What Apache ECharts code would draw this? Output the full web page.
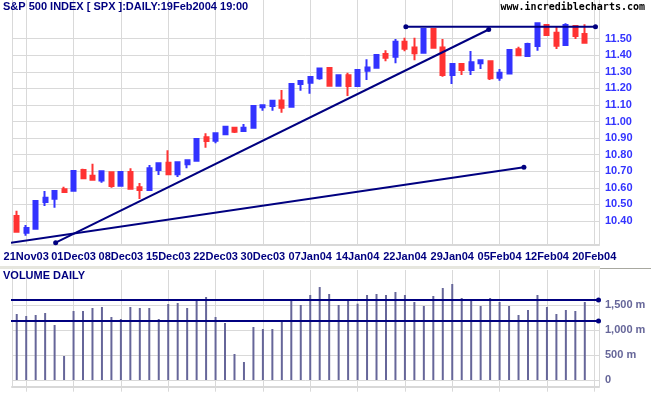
<!DOCTYPE html>
<html><head><meta charset="utf-8">
<script src="https://cdn.jsdelivr.net/npm/echarts@6/dist/echarts.min.js"></script>
<style>html,body{margin:0;padding:0;background:#fff}#c{width:651px;height:395px}</style>
</head><body><div id="c"></div>
<script>
// ---- data ----
const categories = ['20Nov03','21Nov03','24Nov03','25Nov03','26Nov03','28Nov03',
 '01Dec03','02Dec03','03Dec03','04Dec03','05Dec03','08Dec03','09Dec03','10Dec03','11Dec03','12Dec03',
 '15Dec03','16Dec03','17Dec03','18Dec03','19Dec03','22Dec03','23Dec03','24Dec03','26Dec03','29Dec03','30Dec03','31Dec03',
 '02Jan04','05Jan04','06Jan04','07Jan04','08Jan04','09Jan04','12Jan04','13Jan04','14Jan04','15Jan04','16Jan04',
 '20Jan04','21Jan04','22Jan04','23Jan04','26Jan04','27Jan04','28Jan04','29Jan04','30Jan04',
 '02Feb04','03Feb04','04Feb04','05Feb04','06Feb04','09Feb04','10Feb04','11Feb04','12Feb04','13Feb04',
 '17Feb04','18Feb04','19Feb04','20Feb04'];
const opens  = [10.430,10.329,10.353,10.514,10.534,10.591,10.583,10.708,10.673,10.645,10.694,10.613,10.696,10.603,10.587,10.708,
 10.752,10.682,10.742,10.764,10.905,10.884,10.923,10.963,10.943,10.963,11.086,11.094,11.128,11.090,11.227,11.234,11.261,11.323,
 11.216,11.279,11.215,11.307,11.325,11.408,11.391,11.482,11.448,11.416,11.559,11.448,11.281,11.347,11.311,11.352,11.365,11.265,
 11.291,11.436,11.396,11.456,11.583,11.536,11.462,11.577,11.528];
const closes = [10.335,10.358,10.520,10.540,10.581,10.575,10.702,10.658,10.649,10.700,10.611,10.696,10.595,10.587,10.718,10.748,
 10.682,10.754,10.766,10.895,10.883,10.929,10.969,10.939,10.963,11.094,11.098,11.126,11.084,11.227,11.245,11.269,11.321,11.216,
 11.279,11.215,11.311,11.327,11.402,11.385,11.482,11.440,11.412,11.559,11.446,11.281,11.347,11.311,11.358,11.371,11.261,11.295,
 11.432,11.400,11.468,11.593,11.522,11.458,11.583,11.516,11.476];
const lows   = [10.335,10.311,10.353,10.490,10.480,10.573,10.583,10.653,10.649,10.631,10.601,10.613,10.595,10.533,10.587,10.677,
 10.682,10.665,10.718,10.764,10.842,10.869,10.919,10.931,10.943,10.963,11.066,11.066,11.053,11.090,11.186,11.168,11.253,11.216,
 11.216,11.154,11.215,11.251,11.325,11.364,11.352,11.425,11.371,11.416,11.446,11.271,11.227,11.281,11.281,11.317,11.251,11.247,
 11.291,11.400,11.396,11.428,11.518,11.438,11.462,11.498,11.476];
const highs  = [10.462,10.376,10.520,10.581,10.581,10.607,10.702,10.715,10.746,10.700,10.694,10.696,10.718,10.629,10.738,10.748,
 10.827,10.756,10.766,10.895,10.929,10.929,10.975,10.966,10.985,11.094,11.098,11.130,11.190,11.227,11.245,11.269,11.321,11.327,
 11.279,11.295,11.311,11.377,11.402,11.430,11.498,11.506,11.506,11.559,11.559,11.498,11.347,11.347,11.426,11.377,11.365,11.317,
 11.432,11.452,11.476,11.593,11.586,11.572,11.593,11.577,11.587];
const volumes = [1325,1285,1305,1345,1104,482,1386,1386,1446,1466,1265,1225,1466,1446,1446,1225,
 1526,1546,1446,1593,1667,1265,1145,522,361,1064,1024,1024,1171,1593,1506,1707,1867,1727,
 1506,1606,1533,1707,1727,1707,1767,1707,1566,1486,1687,1847,1928,1647,1606,1486,1647,1566,
 1486,1305,1406,1707,1466,1325,1406,1386,1566];
// trend lines: [category position, value]
const resistanceLine = [[41.1, 11.572], [61.13, 11.572]];
const supportLine    = [[4.11, 10.269], [49.85, 11.556]];
const longTrendLine  = [[-1.78, 10.259], [53.57, 10.724]];
const volumeUpper    = [[-1.78, 1606], [61.45, 1606]];
const volumeLower    = [[-1.78, 1185], [61.45, 1185]];
const priceTicks  = {min: 10.4, max: 11.5, step: 0.1};
const volumeTicks = {min: 0, max: 1500, step: 500};

// ---- chart ----
const FONT = 'Liberation Sans';
const GRID = '#d9d9d9';
const NAVY = '#000080';
const labelEvery = (i) => (i - 1) % 5 === 0;
const dateTickPositions = categories.map((c, i) => i).filter(labelEvery);
const candleData = opens.map((o, i) => [o, closes[i], lows[i], highs[i]]);
const noStartDot = (arr) => [{value: arr[0], symbol: 'none'}, arr[1]];

function trend(data, xi, yi) {
  return {type: 'line', xAxisIndex: xi, yAxisIndex: yi, data: data, clip: false, silent: true, z: 5,
    symbol: 'circle', symbolSize: 5, showSymbol: true,
    lineStyle: {color: NAVY, width: 2}, itemStyle: {color: NAVY}, emphasis: {disabled: true}};
}
function volFmt(v) {
  if (v === 0) return '0';
  const th = Math.floor(v / 1000), r = v % 1000;
  return (th > 0 ? th + ',' + String(r).padStart(3, '0') : String(r)) + ' m';
}
const hiddenX = (g, min, max) => ({type: 'value', gridIndex: g, min: min, max: max, show: false});
function gridX(g, withTicks) {
  return {type: 'value', gridIndex: g, min: -0.5, max: 61.5, position: 'bottom',
    axisLine: {show: false, onZero: false},
    axisTick: {show: withTicks, customValues: dateTickPositions, length: 5, lineStyle: {color: GRID}},
    axisLabel: {show: false, customValues: dateTickPositions},
    splitLine: {show: true, lineStyle: {color: GRID, width: 1}}};
}

const chart = echarts.init(document.getElementById('c'));
chart.setOption({
  animation: false,
  backgroundColor: '#ffffff',
  textStyle: {fontFamily: FONT},
  title: [
    {text: 'S&P 500 INDEX [ SPX ]:DAILY:19Feb2004 19:00', left: 3, top: 1, padding: 0,
     textStyle: {color: NAVY, fontSize: 11, fontWeight: 'bold', fontFamily: FONT}},
    {text: 'www.incrediblecharts.com', right: 6, top: 2, padding: 0,
     textStyle: {color: '#000000', fontSize: 10, fontWeight: 'bold', fontFamily: 'DejaVu Sans Mono'}},
    {text: 'VOLUME DAILY', left: 3, top: 270, padding: 0,
     textStyle: {color: NAVY, fontSize: 11, fontWeight: 'bold', fontFamily: FONT}}
  ],
  graphic: [
    {type: 'rect', silent: true, shape: {x: 0, y: 266, width: 600, height: 3}, style: {fill: '#e6e6de'}},
    {type: 'rect', silent: true, shape: {x: 600, y: 268, width: 51, height: 1}, style: {fill: '#a8a8a0'}}
  ],
  grid: [
    {left: 12, right: 52, top: 0, height: 245},
    {left: 12, right: 52, top: 38.7, height: 182.3},
    {left: 12, right: 52, top: 270, height: 116.7},
    {left: 12, right: 52, top: 305.3, height: 74.7}
  ],
  xAxis: [
    {type: 'category', gridIndex: 0, data: categories, boundaryGap: true,
     axisLine: {onZero: false, lineStyle: {color: '#d8d8d8', width: 2}},
     axisTick: {show: false},
     axisLabel: {interval: labelEvery, margin: 6, color: NAVY, fontWeight: 'bold', fontSize: 11, fontFamily: FONT},
     splitLine: {show: false}},
    gridX(0, false),
    hiddenX(1, 0, 1),
    {type: 'category', gridIndex: 2, data: categories, boundaryGap: true,
     axisLine: {onZero: false, lineStyle: {color: '#d8d8d8', width: 2}},
     axisTick: {show: false}, axisLabel: {show: false}, splitLine: {show: false}},
    gridX(2, true),
    hiddenX(3, 0, 1)
  ],
  yAxis: [
    {type: 'value', gridIndex: 0, min: 10.255, max: 11.734, position: 'left',
     axisLine: {show: true, onZero: false, lineStyle: {color: GRID}}, axisTick: {show: false},
     axisLabel: {show: false}, splitLine: {show: false}},
    {type: 'value', gridIndex: 1, min: priceTicks.min, max: priceTicks.max, interval: priceTicks.step, position: 'right',
     axisLine: {show: false}, axisTick: {show: false},
     axisLabel: {margin: 6, color: '#3333ff', fontWeight: 'bold', fontSize: 11, fontFamily: FONT, formatter: v => v.toFixed(2)},
     splitLine: {show: true, lineStyle: {color: GRID, width: 1}}},
    {type: 'value', gridIndex: 0, min: 0, max: 1, position: 'right',
     axisLine: {show: true, onZero: false, lineStyle: {color: GRID}}, axisTick: {show: false},
     axisLabel: {show: false}, splitLine: {show: false}},
    {type: 'value', gridIndex: 2, min: -134.5, max: 2209, position: 'left',
     axisLine: {show: true, onZero: false, lineStyle: {color: GRID}}, axisTick: {show: false},
     axisLabel: {show: false}, splitLine: {show: false}},
    {type: 'value', gridIndex: 3, min: volumeTicks.min, max: volumeTicks.max, interval: volumeTicks.step, position: 'right',
     axisLine: {show: false}, axisTick: {show: false},
     axisLabel: {margin: 6, color: '#666699', fontWeight: 'bold', fontSize: 11, fontFamily: FONT, formatter: volFmt},
     splitLine: {show: true, lineStyle: {color: GRID, width: 1}}},
    {type: 'value', gridIndex: 2, min: 0, max: 1, position: 'right',
     axisLine: {show: true, onZero: false, lineStyle: {color: GRID}}, axisTick: {show: false},
     axisLabel: {show: false}, splitLine: {show: false}}
  ],
  series: [
    {type: 'candlestick', xAxisIndex: 0, yAxisIndex: 0, data: candleData, barWidth: 4.5, silent: true, z: 3,
     itemStyle: {color: '#3333ff', color0: '#ff3333', borderColor: '#3333ff', borderColor0: '#ff3333', borderWidth: 2}},
    trend(resistanceLine, 1, 0),
    trend(supportLine, 1, 0),
    trend(noStartDot(longTrendLine), 1, 0),
    {type: 'bar', xAxisIndex: 3, yAxisIndex: 3, data: volumes, barWidth: 2, silent: true,
     itemStyle: {color: '#666699'}},
    trend(noStartDot(volumeUpper), 4, 3),
    trend(noStartDot(volumeLower), 4, 3)
  ]
});
</script></body></html>
